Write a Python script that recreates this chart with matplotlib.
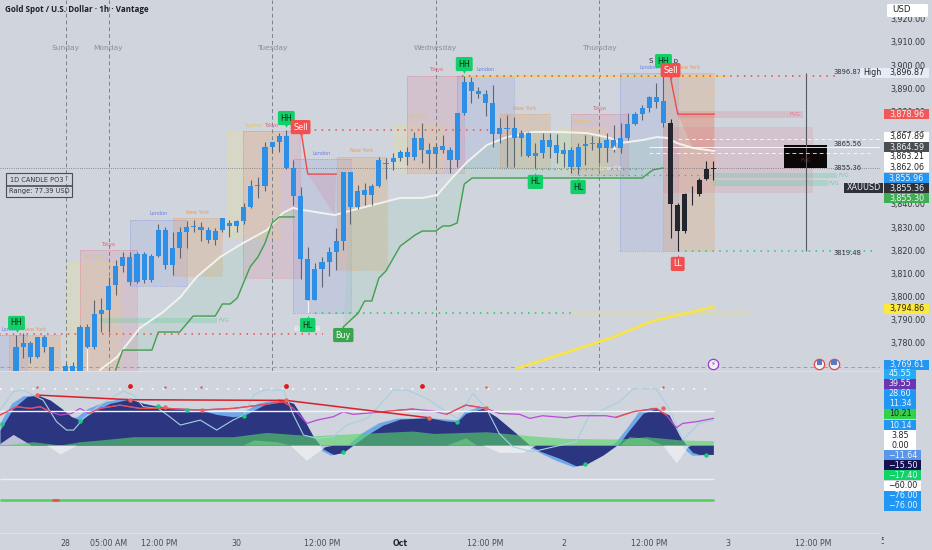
import numpy as np
import matplotlib
matplotlib.use('Agg')
import matplotlib.pyplot as plt
from matplotlib.patches import Rectangle, FancyBboxPatch
from matplotlib.transforms import Bbox

W, H = 932, 550
BG = '#d0d4dc'
BLUE = '#2d8fe6'
DARK = '#23262e'

plt.rcParams['font.family'] = 'DejaVu Sans'

# ---- candles (1h) ----
opens = [3778.4, 3780.1, 3780.1, 3782.4, 3782.4, 3778.1, 3770.0, 3770.0, 3786.7, 3786.7,
         3792.5, 3794.2, 3804.7, 3813.3, 3817.0, 3817.2, 3818.4, 3818.4, 3817.7, 3828.7,
         3828.7, 3821.1, 3828.0, 3829.9, 3830.6, 3829.9, 3828.7, 3828.5, 3833.8, 3831.9,
         3832.8, 3838.8, 3847.9, 3848.2, 3864.7, 3866.9, 3869.5, 3869.5, 3855.7, 3843.6,
         3816.1, 3811.8, 3815.1, 3819.1, 3824.0, 3853.6, 3853.6, 3845.6, 3845.9, 3847.9,
         3858.8, 3857.5, 3859.8, 3862.4, 3862.4, 3868.6, 3868.6, 3863.3, 3864.6, 3864.9,
         3863.3, 3879.1, 3892.8, 3892.7, 3888.8, 3887.3, 3883.4, 3872.8, 3872.8, 3872.8,
         3870.5, 3870.6, 3861.9, 3867.6, 3867.6, 3865.3, 3863.1, 3863.1, 3864.7, 3865.9,
         3866.2, 3866.2, 3867.6, 3867.6, 3868.3, 3874.4, 3878.8, 3881.6, 3886.0, 3886.0,
         3884.3, 3874.8, 3839.5, 3844.4, 3844.4, 3850.3, 3855.1, 3855.4]
highs = [3783.4, 3784.4, 3781.0, 3782.7, 3783.4, 3778.4, 3771.2, 3771.9, 3787.7, 3788.2,
         3798.5, 3799.2, 3808.6, 3815.8, 3819.4, 3819.4, 3819.4, 3819.1, 3818.4, 3831.2,
         3830.2, 3828.0, 3830.2, 3832.8, 3833.1, 3832.3, 3830.2, 3829.5, 3833.8, 3833.1,
         3833.1, 3840.3, 3850.3, 3851.8, 3866.9, 3866.9, 3870.5, 3871.9, 3859.0, 3847.2,
         3821.5, 3814.4, 3817.2, 3821.5, 3829.5, 3853.9, 3853.9, 3848.2, 3848.9, 3848.6,
         3860.4, 3859.7, 3861.9, 3863.3, 3864.4, 3871.2, 3875.1, 3866.2, 3866.2, 3869.8,
         3864.4, 3879.1, 3895.2, 3895.0, 3890.6, 3889.2, 3891.4, 3877.0, 3878.4, 3877.4,
         3871.9, 3871.2, 3866.2, 3870.5, 3870.5, 3870.1, 3866.9, 3864.7, 3866.2, 3869.6,
         3869.3, 3868.3, 3870.5, 3874.1, 3874.8, 3879.1, 3879.8, 3882.7, 3886.6, 3892.1,
         3896.4, 3876.5, 3840.3, 3844.9, 3847.9, 3851.1, 3858.7, 3858.7]
lows = [3762.5, 3773.3, 3771.2, 3773.3, 3776.2, 3762.5, 3762.5, 3762.5, 3762.5, 3771.2,
        3777.2, 3784.8, 3784.8, 3800.7, 3810.8, 3805.0, 3805.7, 3806.0, 3806.4, 3817.2,
        3811.8, 3809.3, 3816.5, 3820.8, 3828.0, 3824.0, 3823.3, 3822.3, 3828.0, 3825.6,
        3828.0, 3831.3, 3838.1, 3842.4, 3845.7, 3862.1, 3862.6, 3855.0, 3839.5, 3807.4,
        3792.8, 3798.5, 3804.3, 3808.9, 3811.5, 3820.1, 3831.3, 3837.7, 3839.5, 3839.5,
        3847.5, 3850.6, 3854.7, 3858.7, 3856.8, 3859.0, 3857.8, 3855.0, 3855.4, 3861.8,
        3853.2, 3856.1, 3878.4, 3883.4, 3885.6, 3878.0, 3864.4, 3866.2, 3856.1, 3856.1,
        3860.7, 3860.4, 3855.4, 3859.7, 3859.7, 3857.5, 3856.1, 3853.2, 3852.9, 3856.8,
        3863.3, 3857.5, 3858.3, 3862.6, 3861.9, 3867.6, 3874.1, 3876.3, 3879.8, 3881.3,
        3873.4, 3825.2, 3819.7, 3827.3, 3839.5, 3843.6, 3850.3, 3850.3]
closes = [3765.4, 3778.4, 3774.0, 3774.0, 3778.4, 3765.4, 3765.4, 3765.4, 3765.4, 3778.4,
          3778.4, 3792.5, 3794.2, 3805.0, 3813.3, 3806.1, 3806.1, 3807.2, 3807.2, 3817.5,
          3813.5, 3813.5, 3821.1, 3828.0, 3830.2, 3828.7, 3824.4, 3824.4, 3828.7, 3830.5,
          3830.5, 3832.6, 3838.8, 3847.9, 3847.9, 3864.7, 3866.9, 3855.7, 3843.6, 3816.1,
          3798.5, 3798.5, 3811.8, 3815.1, 3819.1, 3824.0, 3838.8, 3838.8, 3843.7, 3843.7,
          3847.8, 3857.1, 3858.3, 3859.8, 3860.3, 3860.3, 3863.1, 3861.6, 3861.6, 3863.3,
          3859.0, 3859.0, 3879.1, 3888.8, 3887.5, 3883.4, 3870.2, 3870.1, 3872.5, 3868.3,
          3868.3, 3860.7, 3860.7, 3861.9, 3864.4, 3861.9, 3861.7, 3855.8, 3856.1, 3865.0,
          3865.9, 3864.1, 3864.1, 3864.0, 3864.0, 3868.3, 3874.4, 3878.8, 3881.6, 3884.2,
          3875.1, 3839.8, 3828.3, 3828.3, 3844.2, 3844.2, 3850.8, 3855.3]

# one bar is missing over the weekend
bar_idx = np.delete(np.arange(99), 6)
n_blue = 91

# ---- session boxes ----
session_names = ['London', 'New York', 'Sydney', 'Tokyo', 'London', 'New York', 'Sydney', 'Tokyo',
                 'London', 'New York', 'Sydney', 'Tokyo', 'London', 'New York', 'Sydney', 'Tokyo',
                 'London', 'New York']
session_start = [-3, -1, 7, 9, 16, 22, 29.8, 31.9, 38.9, 45.1, 53, 55, 62, 68, 76, 78, 84.9, 91]
session_end = [1.5, 6.2, 14.6, 17, 24, 29, 37.1, 39.9, 47.1, 52.1, 60, 63, 70, 75, 83, 86, 93, 98.1]
session_high = [3783.4, 3783.4, 3814.9, 3820.1, 3833.1, 3833.9, 3871.1, 3871.5, 3859.4, 3860.3,
                3875.0, 3895.3, 3895.3, 3878.8, 3873.2, 3878.8, 3896.5, 3896.5]
session_low = [3760, 3760, 3760, 3760, 3804.6, 3808.9, 3825.3, 3808.0, 3792.9, 3811.5,
               3853.4, 3853.4, 3856.0, 3855.1, 3853.8, 3852.5, 3819.7, 3819.7]
session_colors = {'Tokyo': '#e0607c', 'London': '#6a80e6', 'New York': '#e89a58', 'Sydney': '#e8e08c'}
session_alpha = {'Tokyo': 0.15, 'London': 0.13, 'New York': 0.24, 'Sydney': 0.26}

# ---- lines on the price pane ----
white_bars = np.array([11.8, 14.2, 17.4, 20.7, 23.1, 25.4, 28.7, 31.9, 35.3, 37.5, 38.9, 40.3, 44.8,
                       46.9, 50.2, 54, 57.2, 59.2, 61.4, 63.4, 66.2, 69, 72.7, 76, 80.3, 83.5, 84.9,
                       88.1, 90.1, 91.5, 92.9, 95.1, 98.1])
white_vals = np.array([3768.3, 3773.9, 3786.4, 3793.4, 3799.8, 3808.5, 3817.1, 3823.1, 3828.8, 3836.1,
                       3838.3, 3837.4, 3835.2, 3837.0, 3839.6, 3842.6, 3842.6, 3843.9, 3851.6, 3858.1,
                       3865.5, 3868.9, 3871.1, 3871.1, 3870.6, 3868.5, 3866.3, 3867.6, 3868.9, 3868.5,
                       3866.3, 3864.2, 3862.9])
green1_bars = np.array([14, 15, 19.1, 20, 23, 24.9, 28, 29, 30.1, 31.1, 32.9, 34, 35, 36, 37, 39.1])
green1_vals = np.array([3768.3, 3776.9, 3776.9, 3784.7, 3784.7, 3791.6, 3791.6, 3796.8, 3796.8, 3799.4,
                        3812.8, 3817.1, 3823.1, 3831.8, 3834.4, 3834.4])
green2_bars = np.array([46, 48.1, 49, 50, 51, 52, 54, 56.1, 57.1, 59, 60, 61, 62, 63, 64.1, 88, 89.5, 90.9])
green2_vals = np.array([3786.9, 3792.9, 3798.1, 3798.1, 3808.0, 3811.1, 3821.8, 3826.6, 3828.3, 3828.3,
                        3830.5, 3830.5, 3831.8, 3848.6, 3851.2, 3851.2, 3854.7, 3855.5])
red1_bars = np.array([40.1, 41, 45])
red1_vals = np.array([3870.6, 3852.9, 3852.9])
red2_bars = np.array([92, 93, 98.1])
red2_vals = np.array([3894.4, 3878.8, 3878.8])
yellow_bars = [70.4, 83.5, 89.5, 98]
yellow_vals = [3769, 3782, 3789.5, 3795.5]

# ---- fair value gaps ----
fvg_start = [93, 91, 98, 98, 11.8]
fvg_end = [110.6, 112, 115.4, 114.1, 28.2]
fvg_high = [3880.1, 3873.2, 3853.4, 3850.3, 3790.8]
fvg_low = [3877.1, 3844.7, 3851.2, 3847.8, 3788.6]
fvg_colors = ['#e0607c', '#e0607c', '#5fd0a0', '#5fd0a0', '#5fd0a0']
fvg_alpha = [0.18, 0.14, 0.3, 0.3, 0.3]

# ---- signals ----
hh_bars, hh_vals = [0.07, 38, 63, 91], [3788.6, 3877.1, 3900.4, 3901.7]
hl_bars, hl_vals = [41, 73, 79], [3787.7, 3849.5, 3847.3]
sell_bars, sell_vals = [40, 92], [3873.2, 3897.8]

# ---- oscillator ----
wave_bars = [-2.25, -0.4, 1.5, 3, 4.8, 6.4, 7.8, 9, 10.9, 13.2, 16, 17.9, 20, 24, 25.9, 28.2, 30.5, 32,
             34.8, 37.6, 39, 40.4, 41.8, 43.2, 44.6, 46, 47.4, 49.3, 51.6, 54, 58, 60.5, 62, 63.2,
             65.6, 67.5, 70.3, 72.2, 73.6, 76.4, 78.7, 80.1, 82.5, 84.8, 86.2, 88.1, 90, 91.8, 93.2,
             94.4, 95.1, 96, 98]
wave_vals = [26.8, 65.5, 86.3, 89.3, 80.4, 65.5, 50.6, 44.6, 59.5, 74.4, 82.1, 74.4, 68.5, 62.5, 62.5,
             54.8, 50.6, 52.4, 71.4, 80.4, 74.4, 47.6, 14.9, -7.1, -16.7, -13.1, 0, 17.9, 35.7, 46.4,
             48.8, 42.9, 41.7, 56.5, 65.5, 50.6, 20.8, 0, -10.7, -23.8, -36.9, -34.5, -17.9, 3, 26.8,
             56.5, 65.5, 53.6, 17.9, -3, -13.1, -16.7, -16.7]
lead_bars = [-2.25, -0.6, 1, 3, 4.8, 7.8, 8.5, 10, 12.5, 15.5, 17.9, 24, 32, 34, 37, 39, 41.8, 43, 44.2,
             46, 47, 48.6, 51, 53.5, 58, 62, 63, 65, 67.5, 70.3, 72, 74, 76, 78.3, 80.1, 84.3, 85.8,
             87.5, 89.5, 91.8, 93, 94, 95, 96, 98]
lead_vals = [40, 75, 88, 90, 80, 50.6, 50, 65, 78, 84, 74.4, 62.5, 60, 75, 83, 74.4, 14.9, -10, -18,
             -13.1, 5, 22, 40, 48, 48.8, 45, 60, 68, 50.6, 20.8, -3, -16, -28, -38.7, -34.5, 6, 30,
             60, 68, 53.6, 12, -8, -18, -18, -16.7]
cyan_bars = [-2.25, -0.4, 1, 2.4, 3.8, 5.7, 7.1, 8.1, 9.5, 11.8, 13.7, 15.1, 16.5, 17.9, 20, 21.6, 23.1,
             25.9, 28.2, 30.5, 32, 33.4, 34.8, 37.6, 39, 40.4, 42.3, 44.6, 46.5, 49.3, 50.7, 53, 54.9,
             57.7, 60.5, 62, 63.2, 64.2, 66.1, 67.9, 69.8, 72.6, 78.7, 80.6, 82.9, 84.8, 86.7, 90, 91.8,
             93.7, 96, 98]
cyan_vals = [62.5, 95.2, 98.2, 89.3, 80.4, 41.7, 26.8, 26.8, 47.6, 71.4, 86.3, 96.4, 89.3, 68.5, 65.5,
             50.6, 35.7, 44.6, 26.8, 44.6, 53.6, 89.3, 98.2, 98.2, 53.6, 17.9, 11.9, 14.9, 35.7, 47.6,
             65.5, 98.2, 98.2, 83.3, 59.5, 47.6, 71.4, 92.3, 65.5, 20.8, -3, -11.9, 6, 53.6, 65.5, 77.4,
             100, 100, 65.5, 8.9, 38.7, 44.6]
rsi_bars = np.array([-2.25, 0.1, 2, 3.4, 4.8, 6.2, 7.8, 9, 10.2, 11.8, 14.6, 17.4, 21.2, 25.9, 30.5, 34.3,
                     37.6, 39, 40.9, 42.3, 44.6, 46, 47.4, 50.5, 54, 55.8, 58.7, 60.5, 63.2, 66.1, 67.9,
                     70.8, 72.2, 74, 77.3, 79.2, 82.9, 84.3, 86.7, 90, 91.4, 92.8, 93.7, 95.6, 98])
rsi_vals = np.array([53.6, 68.5, 65.5, 68.5, 59.5, 53.6, 56.5, 65.5, 56.5, 65.5, 71.4, 65.5, 65.5, 62.5,
                     65.5, 71.4, 77.4, 65.5, 38.7, 44.6, 50.6, 59.5, 54.8, 58.3, 62.5, 64.3, 60.7, 54.8,
                     71.4, 65.5, 56.5, 54.8, 47.6, 52.4, 48.8, 52.4, 52.4, 49.4, 59.5, 65.5, 53.6, 31,
                     38.7, 41.7, 47.6])
rsi_red_ranges = [(-3, 4.8), (10.2, 39), (50.5, 56), (60.5, 66.1), (84.3, 91.4)]
mf_bars = [-2.25, 2.4, 6.2, 9, 11.8, 16.5, 21.2, 25.9, 30.5, 35.2, 39, 41.8, 48.3, 55.8, 58.7, 63.2, 66.1,
           70.3, 72.2, 77.3, 84.8, 88.6, 93.7, 98]
mf_vals = [0, 6, 0, 6, 9, 14.9, 14.9, 14.9, 14.9, 22.6, 19, 16.7, 20.8, 25, 20.8, 22.6, 23.8, 19, 16.7,
           11.9, 10.7, 14.9, 8.9, 7.7]
mf2_bars = [31.9, 33.4, 36.6, 38.5, 60.5, 63.2, 64.7, 84.8, 86.2, 88.6, 90.9]
mf2_vals = [0, 9, 6, 0, 0, 13, 0, 0, 15, 12, 0]
lobe_bars = [-2.25, -0.4, 2, 2.1, 4.3, 6.2, 8.5, 38.5, 40.8, 43.4, 44.6, 65.6, 67.9, 71.2, 72.6, 73.1, 90.9,
             92.8, 94.4, 94.9]
lobe_vals = [3, 19, 1, 0, 0, -16, 0, 0, -27, -3, 0, 0, -13, -13, -3, 0, 0, -32, -3, 0]
div_bars, div_vals = [3, 16, 38, 58], [89.3, 81, 79.8, 48.8]
red_dot_bars = [3, 16, 20.9, 26.1, 38, 58, 66, 90.9]
red_dot_vals = [89.3, 81, 68.5, 62.5, 79.8, 48.8, 65.5, 65.5]
green_dot_bars = [-2, 9, 20, 24, 32, 46, 62, 80, 97]
green_dot_vals = [36.9, 43.5, 69.6, 62.5, 51.2, -12.5, 41.7, -34.5, -17.9]
top_big_bars = [16, 38, 57]
top_small_bars = [3, 21, 26, 66, 91]

# ---- labels ----
day_names = ['Sunday', 'Monday', 'Tuesday', 'Wednesday', 'Thursday']
day_bars = [7, 13, 36, 59, 82]
time_bars = [7, 13, 20.1, 31, 43, 54, 66, 77, 89, 100, 112]
time_labels = ['28', '05:00 AM', '12:00 PM', '30', '12:00 PM', 'Oct', '12:00 PM', '2', '12:00 PM', '3', '12:00 PM']
# 3,860 and 3,850 sit fully under the tags
price_ticks = [3780, 3790, 3800, 3810, 3820, 3830, 3840, 3870, 3880, 3890, 3900, 3910, 3920]

price_tags = ['3,878.96', '3,867.89', '3,864.59', '3,863.21', '3,862.06', '3,855.96', '3,855.36', '3,855.30',
              '3,794.86', '3,769.61']
price_tag_colors = ['#f25858', '#ffffff', '#4a4d52', '#ffffff', '#ffffff', '#2196f3', '#2e3138', '#3fae52',
                    '#ffe83c', '#2196f3']
osc_tags = ['45.55', '39.55', '28.60', '11.34', '10.21', '10.14', '3.85', '0.00', '\u221211.64', '\u221215.50',
            '\u221217.40', '\u221260.00', '\u221276.00', '\u221276.00']
osc_tag_colors = ['#29aaf5', '#6a35b0', '#2196f3', '#2196f3', '#35d04a', '#2196f3', '#ffffff', '#ffffff',
                  '#5a96ea', '#15124f', '#11d36a', '#ffffff', '#2196f3', '#2196f3']

fig = plt.figure(figsize=(W / 100, H / 100), dpi=100, facecolor=BG)


def pane(top, bottom):
    a = fig.add_axes([0, 1 - bottom / H, 880 / W, (bottom - top) / H], facecolor='none')
    a.set_xlim(-2.25, 121.43)
    for s in ('top', 'left', 'right'):
        a.spines[s].set_visible(False)
    a.spines['bottom'].set_color('#dde0e6')
    return a


def fx(x):
    return x / W


def fy(y):
    return 1 - y / H


def tag(y, label, bg, fg=None, x0=884, x1=929):
    # badge on the price scale, stacked like the platform does it
    fig.patches.append(Rectangle((fx(x0), fy(y + 5)), (x1 - x0) / W, 10 / H, transform=fig.transFigure,
                                 facecolor=bg, edgecolor='none', zorder=2))
    if fg is None:
        fg = '#222222' if bg in ('#ffffff', '#ffe83c', '#e4ecf5', '#35d04a') else '#f0f4fa'
    fig.text(fx((x0 + x1) / 2), fy(y), label, color=fg, fontsize=5.8, ha='center', va='center', zorder=3)


ax = pane(0, 371)
ax.set_ylim(3767.87, 3928.07)
osc = pane(371, 533)
osc.set_ylim(-157.1, 132.3)

# ---- price pane ----
for name, a, b, hi, lo in zip(session_names, session_start, session_end, session_high, session_low):
    ax.add_patch(Rectangle((a, lo), b - a, hi - lo, facecolor=session_colors[name], alpha=session_alpha[name],
                           edgecolor='none', zorder=1))
    ax.add_patch(Rectangle((a, lo), b - a, hi - lo, facecolor='none', edgecolor=session_colors[name],
                           linestyle=':', linewidth=0.5, alpha=0.8, zorder=1))
    ax.text((a + b) / 2, hi + 1.5, name, color=session_colors[name] if name != 'Sydney' else '#dcc860',
            fontsize=3.6, ha='center', va='bottom', zorder=2, clip_on=True)

for a, b, hi, lo, c, al in zip(fvg_start, fvg_end, fvg_high, fvg_low, fvg_colors, fvg_alpha):
    ax.fill_between([a, b], lo, hi, color=c, alpha=al, linewidth=0, zorder=1.2)
ax.text(110.2, 3878.6, 'FVG', color='#e37a90', fontsize=3.8, ha='right', va='center', zorder=2)
ax.text(115.6, 3852.3, 'FVG', color='#5fd8a0', fontsize=3.8, va='center', zorder=2)
ax.text(114.2, 3849.0, 'FVG', color='#5fd8a0', fontsize=3.8, va='center', zorder=2)
ax.text(28.4, 3789.7, 'FVG', color='#5fd8a0', fontsize=3.8, va='center', zorder=2)

# green and red bands between trail line and the white average
mask = (white_bars >= 14) & (white_bars <= 39.1)
ax.fill(np.r_[green1_bars, white_bars[mask][::-1]], np.r_[green1_vals, white_vals[mask][::-1]],
        color='#6fcf97', alpha=0.13, linewidth=0, zorder=1.3)
mask = (white_bars >= 46) & (white_bars <= 90.9)
ax.fill(np.r_[green2_bars, white_bars[mask][::-1]], np.r_[green2_vals, white_vals[mask][::-1]],
        color='#6fcf97', alpha=0.13, linewidth=0, zorder=1.3)
mask = (white_bars >= 41) & (white_bars <= 45)
ax.fill(np.r_[red1_bars[1:], white_bars[mask][::-1]], np.r_[red1_vals[1:], white_vals[mask][::-1]],
        color='#e0607c', alpha=0.15, linewidth=0, zorder=1.3)
mask = (white_bars >= 93)
ax.fill(np.r_[red2_bars[1:], white_bars[mask][::-1]], np.r_[red2_vals[1:], white_vals[mask][::-1]],
        color='#f05050', alpha=0.18, linewidth=0, zorder=1.3)

# day separators and current price
for b, name in zip(day_bars, day_names):
    ax.axvline(b, color='#7c8088', linestyle=(0, (4, 3)), linewidth=0.7, zorder=1.5)
    ax.text(b, 3907.5, name, color='#8a8f98', fontsize=5.4, ha='center', va='center', zorder=2)
ax.axhline(3855.36, color='#70747c', linestyle=':', linewidth=0.6, zorder=1.5)
ax.axhline(3769.61, color='#7aa6d8', linestyle=(0, (4, 3)), linewidth=0.7, zorder=1.5)

# black box
ax.fill_between([108, 114], 3855.5, 3865.5, color='#0c0808', linewidth=0, zorder=2)
ax.text(111, 3858.9, 'FVG', color='#7a2020', fontsize=3.8, ha='center', va='center', zorder=3)
ax.hlines(3864.59, 89, 122, color='#ffffff', linewidth=0.7, alpha=0.85, zorder=4)
ax.hlines([3867.89, 3862.06], [93, 89], [121.5, 120], color='#ffffff', linewidth=0.7, alpha=0.8,
          linestyle=(0, (4, 3)), zorder=4)

# measured range
ax.vlines(111, 3819.7, 3896.5, color='#55585f', linewidth=0.8, zorder=2)

# key levels
ax.hlines(3783.9, -3, 43.2, color='#f04a4a', linewidth=1.1, linestyle=(0, (1, 3.5)), zorder=3)
ax.hlines(3871.9, 40, 66.7, color='#f04a4a', linewidth=1.1, linestyle=(0, (1, 3.5)), zorder=3)
ax.hlines(3895.3, 62.7, 100, color='#f4d35e', linewidth=1.1, zorder=3)
ax.hlines(3895.3, 62.7, 115.8, color='#ec4a3c', linewidth=1.1, linestyle=(0, (1, 3.5)), zorder=3)
ax.hlines(3792.9, 78, 103, color='#f5e050', linewidth=1.0, zorder=3)
ax.hlines(3792.9, 41, 78, color='#22cc55', linewidth=1.1, linestyle=(0, (1, 3.5)), zorder=3)
ax.hlines(3855.1, 73, 88, color='#22cc66', linewidth=1.0, linestyle=(0, (1, 3.5)), zorder=3)
ax.hlines(3852.5, 79, 98, color='#22cc66', linewidth=1.0, linestyle=(0, (1, 3.5)), zorder=3)
ax.hlines(3819.7, 93, 121, color='#22cc66', linewidth=1.1, linestyle=(0, (1, 3.5)), zorder=3)

# indicator lines
ax.plot(white_bars, white_vals, color='#f2f2ee', linewidth=1.4, zorder=3)
ax.plot(green1_bars, green1_vals, color='#3f9f4c', linewidth=1.0, zorder=3)
ax.plot(green2_bars, green2_vals, color='#3f9f4c', linewidth=1.0, zorder=3)
ax.plot(red1_bars, red1_vals, color='#f04a4a', linewidth=1.0, zorder=3)
ax.plot(red2_bars, red2_vals, color='#f04a4a', linewidth=1.0, zorder=3)
ax.plot(yellow_bars, yellow_vals, color='#f7e34a', linewidth=2.0, zorder=3)

# candles
o, c = np.array(opens), np.array(closes)
colors = [BLUE] * n_blue + [DARK] * (len(opens) - n_blue)
wick_colors = ['#5c6570'] * n_blue + [DARK] * (len(opens) - n_blue)
ax.vlines(bar_idx, lows, highs, colors=wick_colors, linewidth=0.8, zorder=4)
ax.bar(bar_idx, np.abs(o - c), bottom=np.minimum(o, c), width=0.72, color=colors, linewidth=0, zorder=5)

# small white wicks of the order block
ax.vlines([10, 41], [3762.5, 3792.8], [3778, 3798.5], color='#f5f5f5', linewidth=1.0, zorder=6)
ax.text(41, 3786, 'Bull OB', color='#f4f4f4', fontsize=5.2, ha='center', va='center', zorder=6)
ax.text(83.6, 3855.4, 'Low Cit', color='#f4f4f4', fontsize=4.2, ha='center', va='center', zorder=6)
ax.scatter([84], [3864.5], s=10, marker='^', color='#f4f4f4', linewidth=0, zorder=6)

# signal labels
def signal(bar, val, text, bg, fg, pointer, shift, size=5.8):
    ax.scatter([bar], [val + shift], s=12, marker=pointer, color=bg, linewidth=0, zorder=8)
    ax.text(bar, val, text, color=fg, fontsize=size, ha='center', va='center', zorder=9,
            bbox=dict(boxstyle='round,pad=0.32,rounding_size=0.2', facecolor=bg, edgecolor='none'))


ax.text(91, 3901.7, 'S         p', color='#33264a', fontsize=5, ha='center', va='center', zorder=7)
for b, v in zip(hh_bars, hh_vals):
    signal(b, v, 'HH', '#12d068', '#0f2a1a', 'v', -3)
for b, v in zip(hl_bars, hl_vals):
    signal(b, v, 'HL', '#12d068', '#0f2a1a', '^', 3)
for b, v in zip(sell_bars, sell_vals):
    signal(b, v, 'Sell', '#f24f4f', '#ffffff', 'v', -3)
signal(46, 3783.4, 'Buy', '#3aa54c', '#ffffff', '^', 3)
signal(93, 3814.1, 'LL', '#f24f4f', '#ffffff', '^', 3)

# range text
ax.text(116.9, 3866, '3865.56', color='#30343a', fontsize=4.9, ha='center', va='center', zorder=6)
ax.text(116.9, 3855.4, '3855.36', color='#30343a', fontsize=4.9, ha='center', va='center', zorder=6)
ax.text(116.9, 3819.0, '3819.48', color='#30343a', fontsize=4.9, ha='center', va='center', zorder=6)
ax.text(116.9, 3897, '3896.87', color='#30343a', fontsize=4.9, ha='center', va='center', zorder=6)

# event icons
ax.scatter([98], [3771], s=55, facecolor='#f2f2f6', edgecolor='#9a3fc8', linewidth=0.9, zorder=7)
ax.text(98, 3771, '\u26a1', color='#9a3fc8', fontsize=5, ha='center', va='center', zorder=8)
ax.scatter([112.9, 115], [3771, 3771], s=55, facecolor='#f2f2f6', edgecolor='#e04848', linewidth=0.9, zorder=7)
ax.scatter([112.9, 115], [3771.5, 3771.5], s=16, marker='s', facecolor='#5a78c8', edgecolor='none', zorder=8)

ax.set_xticks([])
ax.yaxis.tick_right()
ax.set_yticks(price_ticks)
ax.set_yticklabels([f'{p:,.2f}' for p in price_ticks], fontsize=5.8, color='#33363c')
ax.tick_params(axis='y', length=0, pad=7.5)

# ---- oscillator pane ----
osc.fill_between(lead_bars, lead_vals, 0, color='#6fa8e8', linewidth=0, zorder=1)
osc.fill_between(wave_bars, wave_vals, 0, color='#2c3680', linewidth=0, zorder=2)
osc.fill_between(lobe_bars, lobe_vals, 0, color='#f0f1f4', alpha=0.75, linewidth=0, zorder=3)
osc.fill_between(mf_bars, mf_vals, 0, color='#57d468', alpha=0.62, linewidth=0, zorder=3)
osc.fill_between(mf2_bars, mf2_vals, 0, color='#7fdc8a', alpha=0.5, linewidth=0, zorder=3)
osc.plot(cyan_bars, cyan_vals, color='#a6d0e2', linewidth=0.8, zorder=4)
osc.plot(rsi_bars, rsi_vals, color='#b84ad6', linewidth=0.9, zorder=4)
for a, b in rsi_red_ranges:
    m = (rsi_bars >= a) & (rsi_bars <= b)
    osc.plot(rsi_bars[m], rsi_vals[m], color='#e8504a', linewidth=0.9, zorder=4.5)
osc.hlines(60, -2.25, 98.1, color='#f2f4f8', linewidth=1.0, zorder=4)
osc.hlines(-60, -2.25, 98.1, color='#eceef2', linewidth=1.0, zorder=2)
osc.hlines(-98, -2.25, 98.1, color='#52d058', linewidth=1.8, zorder=2)
osc.hlines(-98, 5, 6.1, color='#f04a4a', linewidth=1.8, zorder=3)
osc.hlines(100, -2.25, 98.1, color='#f8f8fa', linewidth=1.3, linestyle=(0, (1, 5)), zorder=2)
osc.plot(div_bars, div_vals, color='#d8202a', linewidth=1.1, zorder=5)
osc.scatter(red_dot_bars, red_dot_vals, s=10, color='#f0605c', linewidth=0, zorder=6)
osc.scatter(green_dot_bars, green_dot_vals, s=10, color='#14cf78', linewidth=0, zorder=6)
osc.scatter(top_big_bars, [105] * len(top_big_bars), s=12, color='#e01818', linewidth=0, zorder=6)
osc.scatter(top_small_bars, [104] * len(top_small_bars), s=3, color='#f05050', linewidth=0, zorder=6)
osc.set_yticks([])
osc.set_xticks(time_bars)
osc.set_xticklabels(time_labels, fontsize=5.7, color='#4a4d54')
osc.get_xticklabels()[5].set_fontweight('bold')
osc.get_xticklabels()[5].set_color('#22252a')
osc.tick_params(axis='x', length=0, pad=4)

# ---- title and boxes outside the data ----
fig.text(fx(5), fy(10), 'Gold Spot / U.S. Dollar \u00b7 1h \u00b7 Vantage', fontsize=5.8, fontweight='bold',
         family='Open Sans', color='#1c1e24', va='center')

fig.patches.append(Rectangle((fx(6), fy(197)), 66 / W, 24 / H, transform=fig.transFigure, facecolor='none',
                             edgecolor='#4a4d54', linewidth=0.8, zorder=2))
fig.patches.append(Rectangle((fx(6), fy(186)), 66 / W, 0.001, transform=fig.transFigure, facecolor='none',
                             edgecolor='#4a4d54', linewidth=0.6, zorder=2))
fig.text(fx(37), fy(179.5), '1D CANDLE PO3', fontsize=4.8, color='#33363c', ha='center', va='center')
fig.text(fx(66.5), fy(177.5), '+', fontsize=3.2, color='#33363c', ha='center', va='center')
fig.text(fx(39), fy(191.5), 'Range: 77.39 USD', fontsize=4.8, color='#33363c', ha='center', va='center')

fig.patches.append(FancyBboxPatch((fx(887), fy(17)), 41 / W, 13 / H, boxstyle='round,pad=0,rounding_size=0.002',
                                  transform=fig.transFigure, facecolor='#ffffff', edgecolor='none', zorder=2))
fig.text(fx(892), fy(10), 'USD', fontsize=6.2, color='#222222', va='center', zorder=3)

# sliver of the next date label, cut off by the scale
cut = fig.text(fx(880), fy(542), '5', fontsize=5.7, color='#4a4d54', va='center')
cut.set_clip_box(Bbox([[870, 0], [884, 550]]))
cut.set_clip_on(True)

# ---- price tags ----
tag(72.5, '3,896.87', '#e4ecf5', x1=929)
tag(72.5, 'High', '#e4ecf5', x0=860, x1=884)
tag_ys = [114, 137, 147, 157, 167, 178, 188, 198, 309, 365]
for y, label, bg in zip(tag_ys, price_tags, price_tag_colors):
    tag(y, label, bg)
tag(188, 'XAUUSD', '#2e3138', x0=844, x1=883)

osc_ys = [374, 384, 394, 404, 414, 425, 435, 445, 455, 465, 475, 486, 496, 506]
for y, label, bg in zip(osc_ys, osc_tags, osc_tag_colors):
    if label.startswith('\u2212'):
        tag(y, label, bg, x1=921)
    else:
        tag(y, label, bg, x1=916)

plt.savefig('out.png', dpi=100, facecolor=BG)
plt.close()
